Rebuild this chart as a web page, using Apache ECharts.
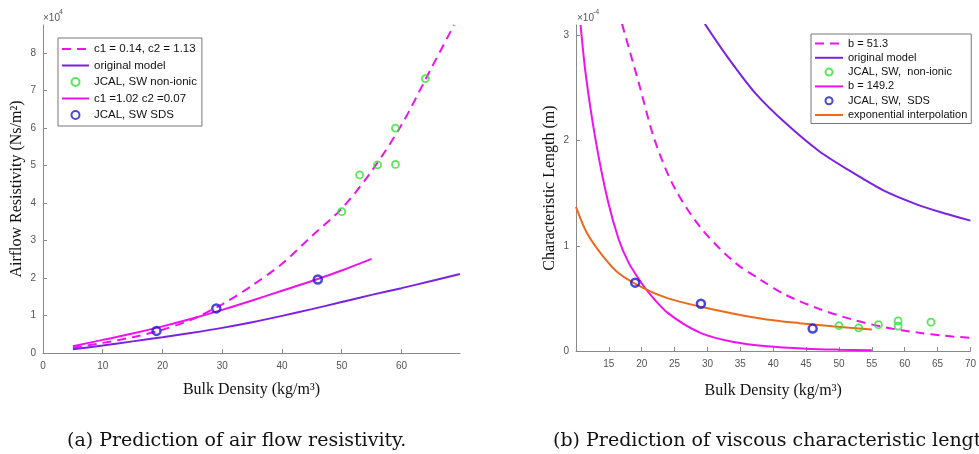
<!DOCTYPE html>
<html><head><meta charset="utf-8">
<script src="https://cdn.jsdelivr.net/npm/echarts@6/dist/echarts.min.js"></script>
<style>html,body{margin:0;padding:0;background:#fff}#c{width:979px;height:454px}</style>
</head><body><div id="c"></div>
<script>
// ---------- tick labels ----------
const leftXTicks = [0, 10, 20, 30, 40, 50, 60];
const leftYTicks = [0, 1, 2, 3, 4, 5, 6, 7, 8];
const rightXTicks = [15, 20, 25, 30, 35, 40, 45, 50, 55, 60, 65, 70];
const rightYTicks = [0, 1, 2, 3];

// ---------- (a) airflow resistivity, values in 1e4 Ns/m^2 ----------
const aDashX = [5, 10, 15, 20, 25, 30, 35, 40, 45, 50, 55, 60, 65, 68.8];
const aDashY = [0.14, 0.27, 0.42, 0.62, 0.9, 1.3, 1.8, 2.38, 3.12, 3.85, 4.85, 6.08, 7.6, 8.75];
const aOrigX = [5, 10, 15, 20, 25, 30, 35, 40, 45, 50, 55, 60, 65, 69.8];
const aOrigY = [0.1, 0.2, 0.31, 0.42, 0.54, 0.67, 0.82, 0.99, 1.17, 1.36, 1.55, 1.73, 1.92, 2.11];
const aFitX = [5, 10, 15, 20, 25, 30, 35, 40, 45, 50, 55];
const aFitY = [0.18, 0.35, 0.52, 0.71, 0.92, 1.15, 1.4, 1.66, 1.92, 2.2, 2.51];
const aNonIonicX = [50, 53, 56, 59, 59, 64];
const aNonIonicY = [3.77, 4.75, 5.02, 6.0, 5.03, 7.32];
const aSdsX = [19, 29, 46];
const aSdsY = [0.59, 1.19, 1.96];

// ---------- (b) viscous characteristic length, values in 1e-4 m ----------
const bDashX = [17, 19.5, 22, 25, 29, 34, 38, 42, 47, 52, 57, 62, 66, 70];
const bDashY = [3.11, 2.56, 2.0, 1.55, 1.17, 0.85, 0.68, 0.53, 0.40, 0.30, 0.225, 0.175, 0.145, 0.125];
const bOrigX = [29.6, 33, 37.3, 42, 47, 52, 57, 62, 66, 70];
const bOrigY = [3.11, 2.8, 2.45, 2.16, 1.9, 1.7, 1.52, 1.39, 1.31, 1.24];
const bFitX = [10.7, 11.5, 13, 14.8, 16.5, 18, 19.5, 21, 24, 29, 34, 39, 45, 50, 55];
const bFitY = [3.1, 2.62, 2.0, 1.44, 1.06, 0.84, 0.69, 0.56, 0.36, 0.17, 0.085, 0.045, 0.022, 0.013, 0.008];
const bExpX = [10, 11.6, 14, 16.5, 20.5, 24, 29, 34, 39, 44, 49, 55];
const bExpY = [1.37, 1.13, 0.91, 0.74, 0.59, 0.50, 0.42, 0.355, 0.30, 0.265, 0.235, 0.205];
const bNonIonicX = [50, 53, 56, 59, 59, 64];
const bNonIonicY = [0.24, 0.22, 0.25, 0.286, 0.237, 0.274];
const bSdsX = [19, 29, 46];
const bSdsY = [0.65, 0.45, 0.213];

// ---------- names ----------
const aNames = ['c1 = 0.14, c2 = 1.13', 'original model', 'JCAL, SW non-ionic', 'c1 =1.02 c2 =0.07', 'JCAL, SW SDS'];
const bNames = ['b = 51.3', 'original model', 'JCAL, SW,  non-ionic', 'b = 149.2', 'JCAL, SW,  SDS', 'exponential interpolation'];
const aLineNames = [aNames[0], aNames[1], aNames[3]];
const bLineNames = [bNames[0], bNames[1], bNames[3], bNames[5]];

const MAG = '#ee12ee', PUR = '#7b22e2', GRN = '#2fe02f', BLU = '#1c1cd0', ORG = '#ec6a1c';
const pairs = (xs, ys) => xs.map((x, i) => [x, ys[i]]);
const legendData = (names, lineNames) => names.map(n => lineNames.includes(n) ? {name: n, itemStyle: {opacity: 0}} : {name: n});

const axisLineStyle = {lineStyle: {color: '#8a8a8a', width: 1}};
const tickStyle = {inside: true, length: 4, lineStyle: {color: '#8a8a8a'}};
const labelStyle = {fontFamily: 'Liberation Sans', fontSize: 10, color: '#555'};
const nameStyle = {fontFamily: 'Liberation Serif', fontSize: 16, color: '#111'};

function lineS(name, xi, xs, ys, color, dashed, width) {
  return {type: 'line', name, xAxisIndex: xi, yAxisIndex: xi, data: pairs(xs, ys),
    showSymbol: false, symbol: 'none', smooth: 0.3,
    lineStyle: {color, width: width || 2, type: dashed ? [9, 6] : 'solid'},
    itemStyle: {color}, emphasis: {disabled: true}, z: 2};
}
function dotS(name, xi, xs, ys, color, size, bw) {
  return {type: 'scatter', name, xAxisIndex: xi, yAxisIndex: xi, data: pairs(xs, ys),
    symbol: 'circle', symbolSize: size,
    itemStyle: {color: 'rgba(255,255,255,0)', borderColor: color, borderWidth: bw},
    emphasis: {disabled: true}, z: 3};
}

const chart = echarts.init(document.getElementById('c'), null, {renderer: 'canvas'});
chart.setOption({
  animation: false,
  backgroundColor: '#fff',
  grid: [
    {left: 43, top: 25, width: 417, height: 328},
    {left: 576, top: 25, width: 405, height: 326}
  ],
  xAxis: [
    {type: 'value', gridIndex: 0, min: 0, max: 69.8, splitLine: {show: false},
      axisLine: axisLineStyle, axisTick: Object.assign({customValues: leftXTicks}, tickStyle),
      axisLabel: Object.assign({customValues: leftXTicks, margin: 8}, labelStyle),
      name: 'Bulk Density (kg/m³)', nameLocation: 'middle', nameGap: 29, nameTextStyle: nameStyle},
    {type: 'value', gridIndex: 1, min: 10, max: 70, splitLine: {show: false},
      axisLine: axisLineStyle, axisTick: Object.assign({customValues: rightXTicks}, tickStyle),
      axisLabel: Object.assign({customValues: rightXTicks, margin: 8}, labelStyle),
      name: 'Bulk Density (kg/m³)', nameLocation: 'middle', nameGap: 32, nameTextStyle: nameStyle}
  ],
  yAxis: [
    {type: 'value', gridIndex: 0, min: 0, max: 8.75, splitLine: {show: false},
      axisLine: Object.assign({show: true}, axisLineStyle), axisTick: Object.assign({customValues: leftYTicks}, tickStyle),
      axisLabel: Object.assign({customValues: leftYTicks, margin: 7}, labelStyle),
      name: 'Airflow Resistivity (Ns/m²)', nameLocation: 'middle', nameGap: 18, nameTextStyle: nameStyle},
    {type: 'value', gridIndex: 1, min: 0, max: 3.1, splitLine: {show: false},
      axisLine: Object.assign({show: true}, axisLineStyle), axisTick: Object.assign({customValues: rightYTicks}, tickStyle),
      axisLabel: Object.assign({customValues: rightYTicks, margin: 7}, labelStyle),
      name: 'Characteristic Length (m)', nameLocation: 'middle', nameGap: 18, nameTextStyle: nameStyle}
  ],
  legend: [
    {orient: 'vertical', left: 58, top: 38, data: legendData(aNames, aLineNames), selectedMode: false,
      padding: [5, 5, 5, 3], itemWidth: 27, itemHeight: 8, itemGap: 4.5,
      borderColor: '#777', borderWidth: 1, backgroundColor: '#fff',
      textStyle: {fontFamily: 'Liberation Sans', fontSize: 11.5, color: '#111'}},
    {orient: 'vertical', left: 811, top: 34, data: legendData(bNames, bLineNames), selectedMode: false,
      padding: [4, 4, 3, 3], itemWidth: 28, itemHeight: 7, itemGap: 3.3,
      borderColor: '#777', borderWidth: 1, backgroundColor: '#fff',
      textStyle: {fontFamily: 'Liberation Sans', fontSize: 11, color: '#111'}}
  ],
  graphic: [
    {type: 'text', left: 43, top: 13, style: {text: '×10', fontFamily: 'Liberation Sans', fontSize: 10, fill: '#555'}},
    {type: 'text', left: 59, top: 9, style: {text: '4', fontFamily: 'Liberation Sans', fontSize: 7, fill: '#555'}},
    {type: 'text', left: 577, top: 13, style: {text: '×10', fontFamily: 'Liberation Sans', fontSize: 10, fill: '#555'}},
    {type: 'text', left: 593, top: 9, style: {text: '-4', fontFamily: 'Liberation Sans', fontSize: 7, fill: '#555'}},
    {type: 'text', left: 67, top: 432, style: {text: '(a) Prediction of air flow resistivity.', fontFamily: 'DejaVu Serif', fontSize: 19, fill: '#111'}},
    {type: 'text', left: 553, top: 432, style: {text: '(b) Prediction of viscous characteristic length.', fontFamily: 'DejaVu Serif', fontSize: 19, fill: '#111'}}
  ],
  series: [
    lineS(aNames[0], 0, aDashX, aDashY, MAG, true),
    lineS(aNames[1], 0, aOrigX, aOrigY, PUR, false),
    dotS(aNames[2], 0, aNonIonicX, aNonIonicY, GRN, 7, 1.8),
    lineS(aNames[3], 0, aFitX, aFitY, MAG, false),
    dotS(aNames[4], 0, aSdsX, aSdsY, BLU, 8, 2.5),
    lineS(bNames[0], 1, bDashX, bDashY, MAG, true),
    lineS(bNames[1], 1, bOrigX, bOrigY, PUR, false),
    dotS(bNames[2], 1, bNonIonicX, bNonIonicY, GRN, 7, 1.8),
    lineS(bNames[3], 1, bFitX, bFitY, MAG, false),
    dotS(bNames[4], 1, bSdsX, bSdsY, BLU, 8, 2.5),
    lineS(bNames[5], 1, bExpX, bExpY, ORG, false)
  ]
});
</script></body></html>
